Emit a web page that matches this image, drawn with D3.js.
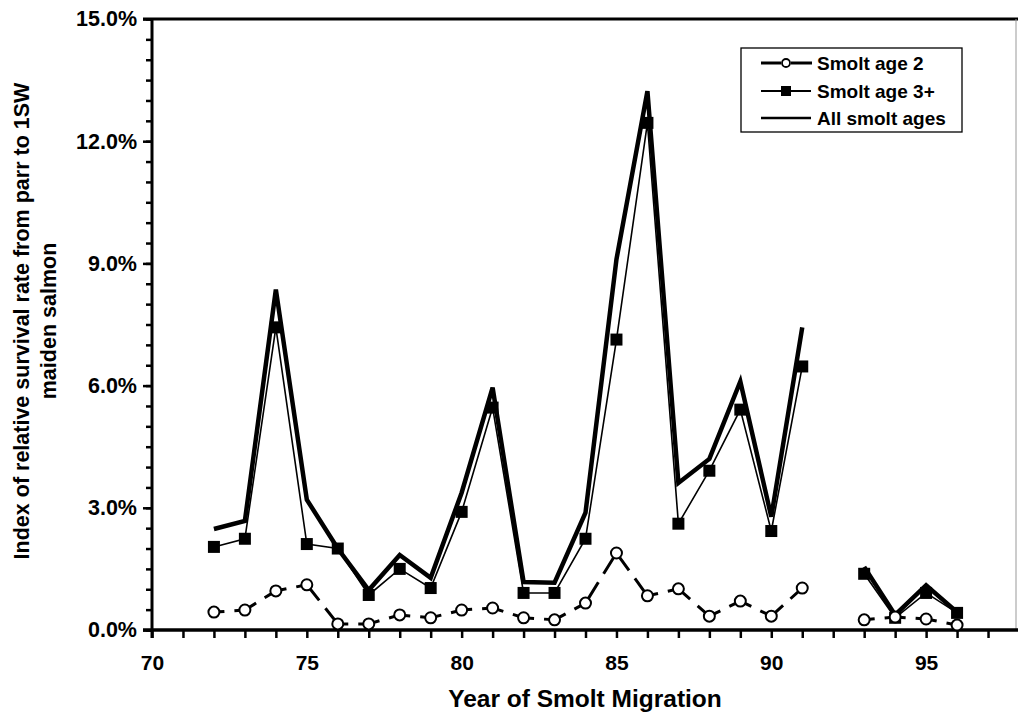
<!DOCTYPE html>
<html>
<head>
<meta charset="utf-8">
<script src="https://cdn.jsdelivr.net/npm/d3@7"></script>
<style>
  html, body { margin: 0; padding: 0; background: #fff; }
  svg { display: block; font-family: "Liberation Sans", Arial, Helvetica, sans-serif; }
</style>
</head>
<body>
<svg id="chart" width="1018" height="715"></svg>
<script>
// Smolt migration years (92 has no estimate)
const years = [72, 73, 74, 75, 76, 77, 78, 79, 80, 81, 82, 83, 84, 85, 86, 87, 88, 89, 90, 91, 92, 93, 94, 95, 96];

// Index of relative survival (%) from parr to 1SW maiden salmon
const smoltAge2 = [0.44, 0.49, 0.96, 1.11, 0.15, 0.15, 0.37, 0.30, 0.49, 0.54, 0.30, 0.25, 0.66, 1.89, 0.84, 1.01, 0.34, 0.71, 0.34, 1.03, null, 0.25, 0.32, 0.27, 0.12];
const smoltAge3 = [2.04, 2.24, 7.43, 2.11, 2.00, 0.86, 1.50, 1.03, 2.90, 5.46, 0.91, 0.91, 2.24, 7.13, 12.45, 2.61, 3.91, 5.41, 2.43, 6.47, null, 1.38, 0.30, 0.91, 0.42];
const allAges   = [2.48, 2.68, 8.36, 3.20, 2.00, 0.98, 1.84, 1.28, 3.37, 5.95, 1.18, 1.16, 2.88, 9.10, 13.23, 3.61, 4.20, 6.10, 2.78, 7.43, null, 1.55, 0.37, 1.10, 0.44];

const xTickLabels = [70, 75, 80, 85, 90, 95];
const yTickLabels = [0, 3, 6, 9, 12, 15];
const legendLabels = ["Smolt age 2", "Smolt age 3+", "All smolt ages"];

const svg = d3.select("#chart");
const plotLeft = 152, plotRight = 1019, plotTop = 19, plotBottom = 630;

const x = d3.scaleLinear().domain([70, 98]).range([plotLeft, plotRight]);
const y = d3.scaleLinear().domain([0, 15]).range([plotBottom, plotTop]);

const pts = arr => years.map((yr, i) => ({ yr, v: arr[i] }));
const line = d3.line().defined(d => d.v != null).x(d => x(d.yr)).y(d => y(d.v));

// Frame: top rule and faint right edge
svg.append("line").attr("x1", 143).attr("x2", 1018).attr("y1", plotTop).attr("y2", plotTop)
  .attr("stroke", "#000").attr("stroke-width", 3);
svg.append("line").attr("x1", 1016).attr("x2", 1016).attr("y1", plotTop).attr("y2", plotBottom)
  .attr("stroke", "#999").attr("stroke-width", 1);

// Y axis with minor ticks every 0.5%
const yMinor = d3.range(0, 15.01, 0.5);
const yAxisG = svg.append("g").attr("transform", `translate(${plotLeft},0)`);
yAxisG.call(d3.axisLeft(y).tickValues(yMinor).tickSize(6).tickFormat(""))
  .call(g => g.select(".domain").remove())
  .call(g => g.selectAll(".tick line").attr("stroke", "#000").attr("stroke-width", 2.5));
const yMajorG = svg.append("g").attr("transform", `translate(${plotLeft},0)`);
yMajorG.call(d3.axisLeft(y).tickValues(yTickLabels).tickSize(9).tickPadding(6)
    .tickFormat(d => d3.format(".1f")(d) + "%"))
  .call(g => g.select(".domain").remove())
  .call(g => g.selectAll(".tick line").attr("stroke", "#000").attr("stroke-width", 2.5))
  .call(g => g.selectAll(".tick text").attr("font-size", 21.5).attr("font-weight", "bold")
    .attr("fill", "#000").attr("font-family", "'Liberation Sans', Arial, sans-serif"));
svg.append("line").attr("x1", plotLeft).attr("x2", plotLeft).attr("y1", plotTop - 1).attr("y2", plotBottom + 8)
  .attr("stroke", "#000").attr("stroke-width", 3);

// X axis: a tick every year, labels every 5 years
const xAll = d3.range(70, 98, 1);
const xAxisG = svg.append("g").attr("transform", `translate(0,${plotBottom})`);
xAxisG.call(d3.axisBottom(x).tickValues(xAll).tickSize(8).tickPadding(17)
    .tickFormat(d => xTickLabels.includes(d) ? d : ""))
  .call(g => g.select(".domain").remove())
  .call(g => g.selectAll(".tick line").attr("stroke", "#000").attr("stroke-width", 2.5))
  .call(g => g.selectAll(".tick text").attr("font-size", 21).attr("font-weight", "bold")
    .attr("fill", "#000").attr("font-family", "'Liberation Sans', Arial, sans-serif"));
svg.append("line").attr("x1", 143).attr("x2", 1018).attr("y1", plotBottom).attr("y2", plotBottom)
  .attr("stroke", "#000").attr("stroke-width", 3.5);

// Axis titles
svg.append("text").attr("x", 585).attr("y", 707).attr("text-anchor", "middle")
  .attr("font-size", 24.5).attr("font-weight", "bold").text("Year of Smolt Migration");
const yt = svg.append("text").attr("transform", "translate(0,321) rotate(-90)")
  .attr("text-anchor", "middle").attr("font-size", 21.5).attr("font-weight", "bold");
yt.append("tspan").attr("x", 0).attr("y", 29).text("Index of relative survival rate from parr to 1SW");
yt.append("tspan").attr("x", 0).attr("y", 56).text("maiden salmon");

// All smolt ages: heavy line
svg.append("path").datum(pts(allAges)).attr("d", line)
  .attr("fill", "none").attr("stroke", "#000").attr("stroke-width", 4.5).attr("stroke-linejoin", "miter");

// Smolt age 3+: thin line with filled squares
const p3 = pts(smoltAge3);
svg.append("path").datum(p3).attr("d", line)
  .attr("fill", "none").attr("stroke", "#000").attr("stroke-width", 1.6);
svg.append("g").selectAll("rect").data(p3.filter(d => d.v != null)).join("rect")
  .attr("x", d => x(d.yr) - 6).attr("y", d => y(d.v) - 6)
  .attr("width", 12).attr("height", 12).attr("fill", "#000");

// Smolt age 2: broken line between open circles
const p2 = pts(smoltAge2);
const segs = [];
for (let i = 0; i < p2.length - 1; i++) {
  if (p2[i].v != null && p2[i + 1].v != null) segs.push([p2[i], p2[i + 1]]);
}
svg.append("g").selectAll("path").data(segs).join("path")
  .attr("d", d => d3.line().x(p => x(p.yr)).y(p => y(p.v))(d))
  .attr("fill", "none").attr("stroke", "#000").attr("stroke-width", 3)
  .attr("stroke-dasharray", d => {
    const dx = x(d[1].yr) - x(d[0].yr), dy = y(d[1].v) - y(d[0].v);
    const L = Math.hypot(dx, dy), gap = 10;
    return `${(L - gap) / 2} ${gap} ${L}`;
  });
svg.append("g").selectAll("circle").data(p2.filter(d => d.v != null)).join("circle")
  .attr("cx", d => x(d.yr)).attr("cy", d => y(d.v)).attr("r", 5.5)
  .attr("fill", "#fff").attr("stroke", "#000").attr("stroke-width", 2);

// Legend
const lg = svg.append("g");
lg.append("rect").attr("x", 741).attr("y", 48).attr("width", 221).attr("height", 84)
  .attr("fill", "#fff").attr("stroke", "#000").attr("stroke-width", 1.3);
const rowY = [63, 91, 118];
lg.selectAll("text").data(legendLabels).join("text")
  .attr("x", 817).attr("y", (d, i) => rowY[i] + 7)
  .attr("font-size", 19).attr("font-weight", "bold").text(d => d);
// age 2 sample
lg.append("line").attr("x1", 761).attr("x2", 781).attr("y1", rowY[0]).attr("y2", rowY[0])
  .attr("stroke", "#000").attr("stroke-width", 3);
lg.append("line").attr("x1", 791).attr("x2", 812).attr("y1", rowY[0]).attr("y2", rowY[0])
  .attr("stroke", "#000").attr("stroke-width", 3);
lg.append("circle").attr("cx", 786).attr("cy", rowY[0]).attr("r", 4)
  .attr("fill", "#fff").attr("stroke", "#000").attr("stroke-width", 1.8);
// age 3+ sample
lg.append("line").attr("x1", 761).attr("x2", 811).attr("y1", rowY[1]).attr("y2", rowY[1])
  .attr("stroke", "#000").attr("stroke-width", 1.8);
lg.append("rect").attr("x", 781).attr("y", rowY[1] - 5).attr("width", 10).attr("height", 10).attr("fill", "#000");
// all ages sample
lg.append("line").attr("x1", 761).attr("x2", 811).attr("y1", rowY[2]).attr("y2", rowY[2])
  .attr("stroke", "#000").attr("stroke-width", 2.5);
</script>
</body>
</html>
